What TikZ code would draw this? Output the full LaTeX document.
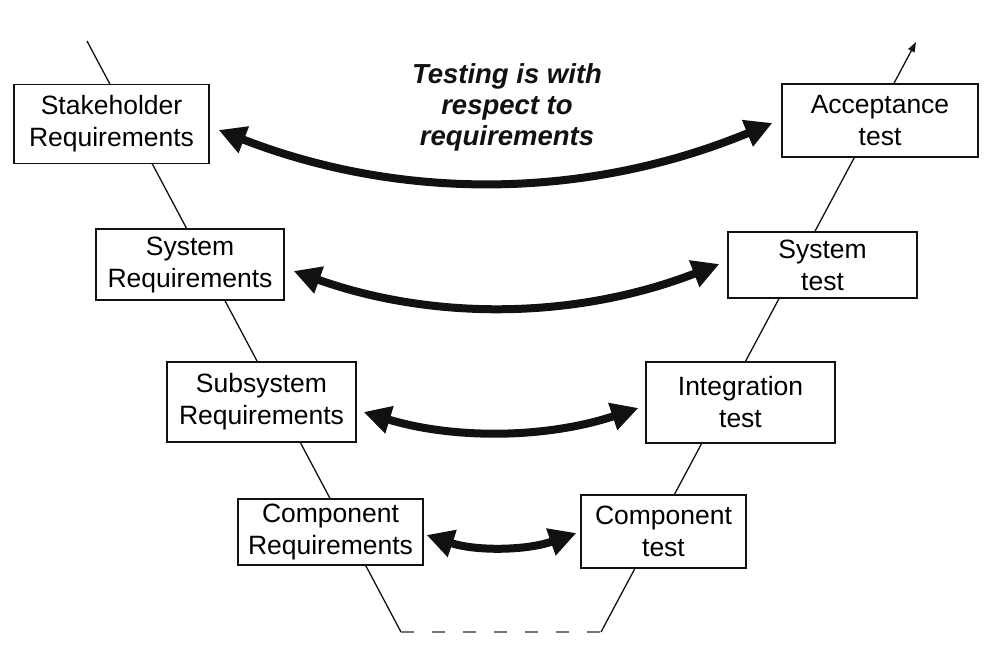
\documentclass[tikz,border=0pt]{standalone}
\usepackage{fontspec}
\setmainfont{Liberation Sans}
\usetikzlibrary{arrows.meta,calc}
\definecolor{dashgray}{RGB}{115,115,115}
\definecolor{ink}{RGB}{17,17,17}
\begin{document}
\begin{tikzpicture}[x=1pt,y=-1pt,
  box/.style={draw=ink, line width=1.3pt, fill=white, inner sep=0pt, align=center,
    font=\fontsize{26.5}{32}\selectfont},
  vline/.style={draw=ink, line width=1.3pt},
  dashline/.style={draw=dashgray, line width=1.8pt, dash pattern=on 13pt off 18pt},
  bigarrow/.style={draw=ink, line width=8pt,
    {Triangle[length=27pt,width=27pt]}-{Triangle[length=27pt,width=27pt]}},
  titletext/.style={align=center, text=ink, font=\fontsize{27.5}{31}\selectfont\bfseries\itshape}
]
\useasboundingbox (0,0) rectangle (997,664);

% V shape lines
\coordinate (vtl) at (87,41);
\coordinate (vbl) at (401,632);
\coordinate (vbr) at (601,632);
\coordinate (vtr) at (916,42);
\draw[vline] (vtl) -- (vbl);
\draw[dashline] (vbl) -- (vbr);
\draw[vline, -{Triangle[length=10pt,width=7pt]}] (vbr) -- (vtr);

% boxes
\node[box, minimum width=195pt, minimum height=79pt] (sr) at (111.5,124) {Stakeholder\\Requirements};
\node[box, minimum width=188pt, minimum height=71pt] (sysr) at (190,264.5) {System\\Requirements};
\node[box, minimum width=189pt, minimum height=80pt] (subr) at (261.5,402) {Subsystem\\Requirements};
\node[box, minimum width=185pt, minimum height=66pt] (compr) at (330.5,532) {Component\\Requirements};
\node[box, minimum width=196pt, minimum height=73pt] (acc) at (880,120.5) {Acceptance\\test};
\node[box, minimum width=189pt, minimum height=66pt] (syst) at (822.5,265) {System\\test};
\node[box, minimum width=189pt, minimum height=81pt] (intt) at (740.5,402.5) {Integration\\test};
\node[box, minimum width=165pt, minimum height=73pt] (compt) at (663.5,531.5) {Component\\test};

% title
\node[titletext] (title) at (507,107) {Testing is with\\respect to\\requirements};

% big double arrows (quadratic shapes written as cubic curves)
\draw[bigarrow] ($(sr.east)+(9,6)$) .. controls (403,201.7) and (588,199.3) .. ($(acc.west)+(-9,2.5)$);
\draw[bigarrow] ($(sysr.east)+(9,6.5)$) .. controls (435,321.3) and (577.7,319) .. ($(syst.west)+(-8,-1)$);
\draw[bigarrow] ($(subr.east)+(7,10)$) .. controls (455,439.7) and (547,438.3) .. ($(intt.west)+(-7,5.5)$);
\draw[bigarrow] ($(compr.east)+(3,3)$) .. controls (476,551.3) and (526.3,550.6) .. ($(compt.west)+(-4,1.5)$);
\end{tikzpicture}
\end{document}
